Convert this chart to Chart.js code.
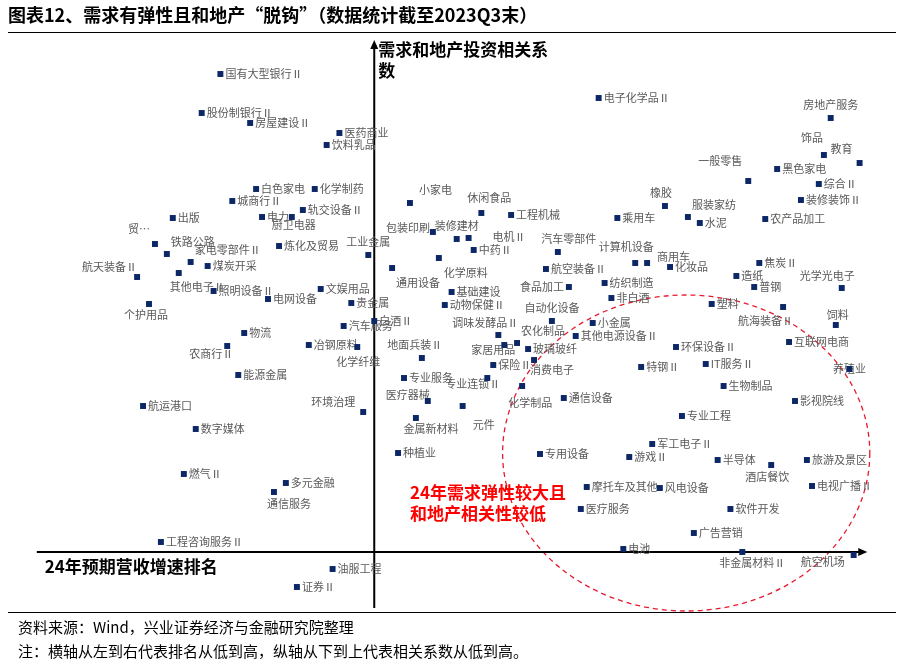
<!DOCTYPE html>
<html lang="zh">
<head>
<meta charset="utf-8">
<title>需求有弹性且和地产脱钩</title>
<script src="https://cdn.jsdelivr.net/npm/chart.js@4.4.0/dist/chart.umd.min.js"></script>
<style>
  body { margin: 0; background: #fff; font-family: "Noto Sans CJK SC", sans-serif; }
  #page { position: relative; width: 904px; height: 667px; overflow: hidden; }
  #chart { position: absolute; left: 0; top: 0; }
  #title { position: absolute; left: 8px; top: 1px; font-size: 18px; font-weight: bold; color: #000; white-space: nowrap; }
  #topline { position: absolute; left: 8px; right: 8px; top: 32px; border-top: 1px solid #000; }
  #footer { position: absolute; left: 8px; right: 8px; top: 612px; border-top: 1px solid #000; padding-left: 10px; padding-top: 2px; font-size: 15px; color: #000; line-height: 24px; }
</style>
</head>
<body>
<div id="page">
  <canvas id="chart" width="904" height="667"></canvas>
  <div id="title">图表12、需求有弹性且和地产“脱钩”（数据统计截至2023Q3末）</div>
  <div id="topline"></div>
  <div id="footer">
    <div>资料来源：Wind，兴业证券经济与金融研究院整理</div>
    <div>注：横轴从左到右代表排名从低到高，纵轴从下到上代表相关系数从低到高。</div>
  </div>
</div>
<script>
// industries, 24E revenue growth rank (0-100, low -> high), correlation with property investment
const industries = [
  '国有大型银行Ⅱ', '股份制银行Ⅱ', '房屋建设Ⅱ', '医药商业', '饮料乳品', '白色家电', '化学制药', '城商行Ⅱ', '轨交设备Ⅱ', '出版',
  '电力', '厨卫电器', '贸易', '铁路公路', '家电零部件Ⅱ', '航天装备Ⅱ', '煤炭开采', '其他电子Ⅱ', '照明设备Ⅱ', '个护用品',
  '物流', '农商行Ⅱ', '能源金属', '航运港口', '数字媒体', '燃气Ⅱ', '工程咨询服务Ⅱ', '多元金融', '通信服务', '油服工程',
  '证券Ⅱ', '炼化及贸易', '工业金属', '文娱用品', '电网设备', '贵金属', '白酒Ⅱ', '汽车服务', '冶钢原料', '化学纤维',
  '环境治理', '小家电', '包装印刷', '装修建材', '电机Ⅱ', '中药Ⅱ', '休闲食品', '工程机械', '通用设备', '化学原料',
  '基础建设', '动物保健Ⅱ', '调味发酵品Ⅱ', '地面兵装Ⅱ', '专业服务', '医疗器械', '金属新材料', '种植业', '汽车零部件', '航空装备Ⅱ',
  '食品加工', '计算机设备', '商用车', '化妆品', '纺织制造', '非白酒', '自动化设备', '小金属', '农化制品', '其他电源设备Ⅱ',
  '家居用品', '玻璃玻纤', '保险Ⅱ', '消费电子', '专业连锁Ⅱ', '化学制品', '通信设备', '元件', '特钢Ⅱ', '电子化学品Ⅱ',
  '乘用车', '橡胶', '房地产服务', '饰品', '教育', '一般零售', '黑色家电', '综合Ⅱ', '装修装饰Ⅱ', '服装家纺',
  '水泥', '农产品加工', '焦炭Ⅱ', '造纸', '普钢', '光学光电子', '塑料', '航海装备Ⅱ', '饲料', '互联网电商',
  '环保设备Ⅱ', 'IT服务Ⅱ', '养殖业', '生物制品', '影视院线', '专业工程', '军工电子Ⅱ', '专用设备', '游戏Ⅱ', '半导体',
  '酒店餐饮', '旅游及景区', '摩托车及其他', '风电设备', '电视广播Ⅱ', '医疗服务', '软件开发', '广告营销', '电池', '非金属材料Ⅱ',
  '航空机场'
];

const growthRank = [
  22.4, 20.2, 25.9, 36.4, 34.9, 26.6, 33.5, 23.8, 32.1, 16.8,
  27.3, 30.8, 14.7, 16.1, 18.9, 12.6, 20.9, 17.5, 21.6, 14.0,
  25.2, 23.2, 24.5, 13.3, 19.5, 18.1, 15.4, 30.1, 28.7, 35.6,
  31.4, 29.3, 39.8, 34.2, 28.0, 37.8, 40.5, 36.9, 32.8, 38.5,
  39.2, 44.7, 47.4, 50.2, 51.6, 52.2, 53.1, 56.6, 42.6, 48.1,
  49.6, 48.8, 55.1, 46.1, 44.0, 46.8, 45.4, 43.3, 62.1, 60.7,
  63.4, 71.2, 72.6, 75.3, 67.6, 68.4, 61.4, 66.2, 57.3, 64.2,
  55.8, 58.6, 54.5, 59.3, 53.8, 57.9, 62.8, 50.9, 71.9, 66.9,
  69.1, 74.7, 94.2, 93.4, 97.6, 84.5, 87.9, 92.8, 90.7, 77.4,
  78.8, 86.5, 85.8, 83.1, 85.2, 95.5, 80.2, 88.6, 94.8, 89.3,
  76.0, 79.5, 96.4, 81.6, 90.0, 76.7, 73.2, 60.0, 70.5, 80.9,
  87.2, 91.4, 65.5, 74.1, 92.0, 64.8, 82.4, 78.1, 69.8, 83.8,
  96.9
];

const propertyCorr = [
  0.956, 0.878, 0.858, 0.838, 0.814, 0.726, 0.726, 0.702, 0.684, 0.668,
  0.670, 0.670, 0.616, 0.596, 0.580, 0.550, 0.572, 0.558, 0.522, 0.496,
  0.438, 0.412, 0.354, 0.292, 0.246, 0.156, 0.020, 0.138, 0.120, -0.034,
  -0.070, 0.612, 0.594, 0.526, 0.506, 0.498, 0.462, 0.452, 0.414, 0.410,
  0.280, 0.698, 0.640, 0.626, 0.628, 0.604, 0.678, 0.674, 0.568, 0.588,
  0.520, 0.494, 0.434, 0.388, 0.348, 0.302, 0.268, 0.198, 0.600, 0.566,
  0.530, 0.578, 0.578, 0.570, 0.538, 0.508, 0.462, 0.458, 0.418, 0.432,
  0.414, 0.406, 0.374, 0.384, 0.348, 0.332, 0.308, 0.292, 0.370, 0.908,
  0.668, 0.692, 0.868, 0.794, 0.778, 0.742, 0.766, 0.736, 0.704, 0.670,
  0.658, 0.666, 0.578, 0.552, 0.530, 0.528, 0.496, 0.490, 0.454, 0.420,
  0.410, 0.376, 0.366, 0.332, 0.302, 0.272, 0.216, 0.196, 0.190, 0.184,
  0.174, 0.184, 0.130, 0.128, 0.132, 0.086, 0.086, 0.038, 0.006, 0.000,
  -0.006
];

// where the two axes cross, and the axes' extent (data units)
const crossX = 40.5;
const xAxisRange = [0.8, 98.5];
const yAxisRange = [-0.112, 1.024];

// highlighted zone (data units)
const zoneCenter = [77.2, 0.198];
const zoneRadius = [21.6, 0.316];
const zoneText = ['24年需求弹性较大且', '和地产相关性较低'];
const zoneTextAt = [44.7, 0.118];

// ---- label placement (style only) ----
const shortLabel = { '贸易': '贸…' };
const labelPlace = {
  '厨卫电器': 'b', '贸易': 'tl', '铁路公路': 'tr', '家电零部件Ⅱ': 'tr', '航天装备Ⅱ': 'tl', '其他电子Ⅱ': 'br',
  '个护用品': 'b', '农商行Ⅱ': 'bl', '通信服务': 'br', '工业金属': 't', '化学纤维': 'b', '环境治理': 'tl',
  '小家电': 'tr', '包装印刷': 'l', '装修建材': 't', '休闲食品': 't', '通用设备': 'br', '化学原料': 'br',
  '调味发酵品Ⅱ': 'tl', '地面兵装Ⅱ': 't', '医疗器械': 'tl', '金属新材料': 'b', '汽车零部件': 't', '食品加工': 'l',
  '计算机设备': 't', '商用车': 'tr', '自动化设备': 't', '农化制品': 'tr', '家居用品': 'bl', '消费电子': 'br',
  '专业连锁Ⅱ': 'bl', '化学制品': 'b', '元件': 'br', '橡胶': 't', '房地产服务': 't', '饰品': 'tl', '教育': 'tl',
  '一般零售': 'tl', '服装家纺': 'tr', '光学光电子': 'tl', '航海装备Ⅱ': 'bl', '饲料': 't', '养殖业': 'c',
  '酒店餐饮': 'b', '非金属材料Ⅱ': 'b', '航空机场': 'bl'
};
const placeOffsets = {
  r: [5, 0, 'left'], l: [-5, 0, 'right'], t: [0, -13, 'center'], b: [0, 12, 'center'],
  tr: [4, -12, 'left'], tl: [-2, -12, 'right'], br: [-3, 13, 'left'], bl: [8, 9, 'right'], c: [0, 0, 'center']
};
const labelNudge = {
  '厨卫电器': [2, -4], '金属新材料': [15, -1], '化学制品': [8, 5], '非金属材料Ⅱ': [10, -1], '化学纤维': [1, 3],
  '调味发酵品Ⅱ': [22, 0], '光学光电子': [15, 0], '一般零售': [-4, -8], '饰品': [1, -5], '医疗器械': [4, 6],
  '环境治理': [-6, 2], '教育': [-5, -2], '贸易': [-3, -3], '航天装备Ⅱ': [2, 2], '电机Ⅱ': [19, -1],
  '包装印刷': [2, -4], '商用车': [6, 6], '计算机设备': [-9, -3], '休闲食品': [8, -2], '汽车零部件': [11, 0],
  '地面兵装Ⅱ': [-7, 0], '饲料': [2, 3], '元件': [13, 6], '航海装备Ⅱ': [2, 5], '小家电': [5, -1],
  '通用设备': [7, 2], '化学原料': [8, 2], '其他电子Ⅱ': [-6, 1], '消费电子': [-1, -3], '通信服务': [-4, -1],
  '航空机场': [-17, -2], '家居用品': [3, -4], '专业连锁Ⅱ': [5, -3], '农商行Ⅱ': [-2, -1], '个护用品': [-3, -1],
  '酒店餐饮': [-4, 0], '橡胶': [-4, 0]
};

const FONT = '"Noto Sans CJK SC", sans-serif';
const LABEL_FONT = '11px "Noto Sans CJK SC", sans-serif';

function arrowHead(ctx, x, y, dir) {
  ctx.beginPath();
  if (dir === 'up') {
    ctx.moveTo(x, y); ctx.lineTo(x - 4, y + 9); ctx.lineTo(x + 4, y + 9);
  } else {
    ctx.moveTo(x, y); ctx.lineTo(x - 9, y - 4); ctx.lineTo(x - 9, y + 4);
  }
  ctx.closePath();
  ctx.fill();
}

const quadrantPlugin = {
  id: 'quadrant',
  beforeDatasetsDraw(chart) {
    const { ctx, scales: { x, y } } = chart;
    const ox = x.getPixelForValue(crossX);
    const oy = y.getPixelForValue(0);
    const x0 = x.getPixelForValue(xAxisRange[0]), x1 = x.getPixelForValue(xAxisRange[1]);
    const yb = y.getPixelForValue(yAxisRange[0]), yt = y.getPixelForValue(yAxisRange[1]);
    ctx.save();

    // red dashed zone
    const cx = x.getPixelForValue(zoneCenter[0]), cy = y.getPixelForValue(zoneCenter[1]);
    const rx = x.getPixelForValue(zoneCenter[0] + zoneRadius[0]) - cx;
    const ry = cy - y.getPixelForValue(zoneCenter[1] + zoneRadius[1]);
    ctx.strokeStyle = '#e8192c';
    ctx.lineWidth = 1.3;
    ctx.setLineDash([5, 4]);
    ctx.beginPath();
    ctx.ellipse(cx, cy, rx, ry, 0, 0, Math.PI * 2);
    ctx.stroke();
    ctx.setLineDash([]);

    // zone text
    ctx.fillStyle = '#ff0000';
    ctx.font = 'bold 17px ' + FONT;
    ctx.textAlign = 'left';
    ctx.textBaseline = 'middle';
    const tx = x.getPixelForValue(zoneTextAt[0]), ty = y.getPixelForValue(zoneTextAt[1]);
    zoneText.forEach((t, i) => ctx.fillText(t, tx, ty + i * 21));

    // axes
    ctx.strokeStyle = '#000';
    ctx.fillStyle = '#000';
    ctx.lineWidth = 2;
    ctx.beginPath();
    ctx.moveTo(x0, oy); ctx.lineTo(x1 - 4, oy);
    ctx.moveTo(ox, yb); ctx.lineTo(ox, yt + 4);
    ctx.stroke();
    arrowHead(ctx, x1, oy, 'right');
    arrowHead(ctx, ox, yt, 'up');

    // axis titles
    ctx.font = 'bold 17px ' + FONT;
    ctx.fillText('需求和地产投资相关系', ox + 4, yt + 10);
    ctx.fillText('数', ox + 4, yt + 31);
    ctx.fillText('24年预期营收增速排名', x0 + 8, oy + 15);

    // point labels
    const meta = chart.getDatasetMeta(0);
    ctx.font = LABEL_FONT;
    ctx.fillStyle = '#595959';
    meta.data.forEach((pt, i) => {
      const name = industries[i];
      const off = placeOffsets[labelPlace[name] || 'r'];
      const nudge = labelNudge[name] || [0, 0];
      ctx.textAlign = off[2];
      ctx.fillText(shortLabel[name] || name, pt.x + off[0] + nudge[0], pt.y + off[1] + nudge[1]);
    });
    ctx.restore();
  }
};

new Chart(document.getElementById('chart'), {
  type: 'scatter',
  data: {
    datasets: [{
      label: '行业',
      data: industries.map((n, i) => ({ x: growthRank[i], y: propertyCorr[i] })),
      pointStyle: 'rect',
      pointRadius: 4.2,
      pointHoverRadius: 4.2,
      backgroundColor: '#0b2766',
      borderWidth: 0
    }]
  },
  options: {
    responsive: false,
    animation: false,
    layout: { padding: { left: 30, right: 24, top: 35, bottom: 57 } },
    scales: {
      x: { type: 'linear', min: 0, max: 100, display: false },
      y: { type: 'linear', min: -0.116, max: 1.034, display: false }
    },
    plugins: { legend: { display: false }, tooltip: { enabled: false } }
  },
  plugins: [quadrantPlugin]
});
</script>
</body>
</html>
